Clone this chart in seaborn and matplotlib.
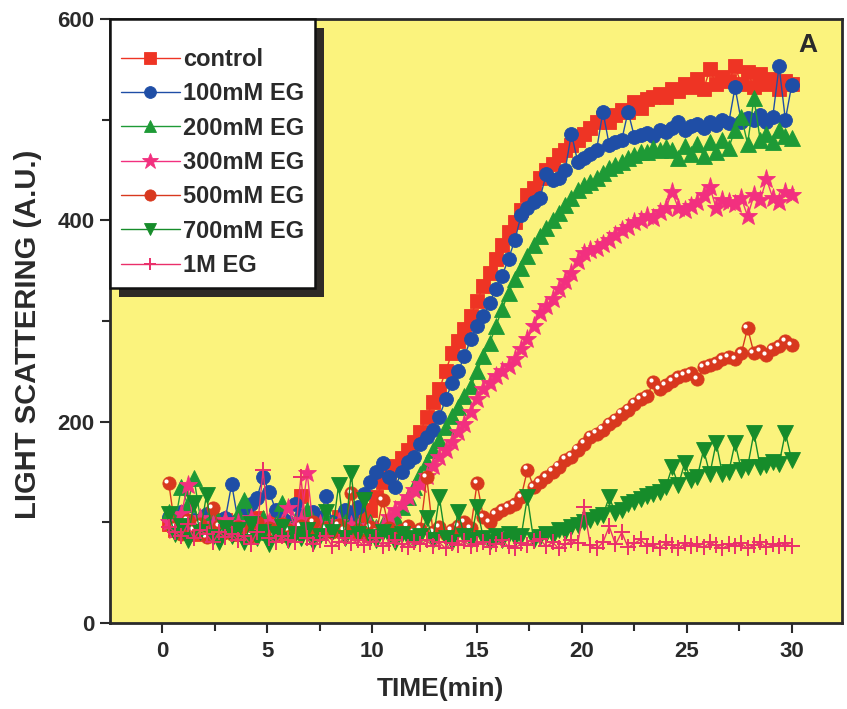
import numpy as np
import pandas as pd
import matplotlib
matplotlib.use("Agg")
import matplotlib.pyplot as plt
import matplotlib.transforms as mtransforms
from matplotlib.patches import Rectangle
import seaborn as sns

# Sampling times (min)
time_min = [
    0.3, 0.6, 0.9, 1.2, 1.5, 1.8, 2.1, 2.4, 2.7, 3.0,
    3.3, 3.6, 3.9, 4.2, 4.5, 4.8, 5.1, 5.4, 5.7, 6.0,
    6.3, 6.6, 6.9, 7.2, 7.5, 7.8, 8.1, 8.4, 8.7, 9.0,
    9.3, 9.6, 9.9, 10.2, 10.5, 10.8, 11.1, 11.4, 11.7, 12.0,
    12.3, 12.6, 12.9, 13.2, 13.5, 13.8, 14.1, 14.4, 14.7, 15.0,
    15.3, 15.6, 15.9, 16.2, 16.5, 16.8, 17.1, 17.4, 17.7, 18.0,
    18.3, 18.6, 18.9, 19.2, 19.5, 19.8, 20.1, 20.4, 20.7, 21.0,
    21.3, 21.6, 21.9, 22.2, 22.5, 22.8, 23.1, 23.4, 23.7, 24.0,
    24.3, 24.6, 24.9, 25.2, 25.5, 25.8, 26.1, 26.4, 26.7, 27.0,
    27.3, 27.6, 27.9, 28.2, 28.5, 28.8, 29.1, 29.4, 29.7, 30.0,
]

# Light scattering (A.U.) for each ethylene glycol concentration
control = [
    98, 92, 105, 95, 88, 100, 93, 97, 90, 102,
    95, 88, 99, 92, 104, 90, 96, 100, 87, 94,
    98, 126, 92, 89, 101, 95, 93, 105, 97, 91,
    100, 104, 112, 125, 140, 150, 156, 164, 172, 180,
    190, 205, 220, 232, 250, 268, 280, 292, 305, 320,
    335, 348, 362, 375, 388, 398, 410, 425, 432, 442,
    450, 456, 465, 470, 475, 480, 486, 492, 498, 502,
    498, 505, 510, 508, 517, 512, 520, 522, 525, 522,
    530, 528, 535, 532, 540, 530, 550, 535, 542, 538,
    553, 535, 547, 532, 545, 535, 540, 530, 538, 535,
]
eg_100mM = [
    105, 98, 110, 95, 102, 92, 108, 100, 96, 104,
    138, 102, 108, 118, 124, 145, 130, 112, 104, 100,
    118, 106, 98, 110, 104, 126, 100, 96, 112, 108,
    115, 128, 140, 150, 159, 145, 135, 150, 160, 165,
    178, 185, 192, 205, 222, 238, 250, 265, 282, 295,
    305, 318, 332, 345, 362, 380, 405, 412, 418, 422,
    446, 440, 442, 450, 486, 458, 462, 466, 470, 508,
    475, 478, 480, 508, 483, 485, 487, 484, 490, 488,
    492, 498, 490, 494, 496, 492, 498, 495, 500, 497,
    532, 498, 502, 500, 505, 498, 503, 553, 500, 534,
]
eg_200mM = [
    110, 100, 135, 118, 144, 105, 98, 112, 95, 102,
    92, 108, 122, 100, 96, 104, 90, 98, 119, 94,
    100, 92, 112, 96, 90, 104, 98, 93, 100, 95,
    97, 92, 100, 95, 98, 96, 105, 115, 125, 135,
    148, 160, 172, 182, 195, 206, 215, 225, 235, 250,
    265, 278, 295, 312, 328, 342, 353, 365, 375, 384,
    392, 400, 407, 415, 422, 430, 435, 438, 442, 447,
    452, 455, 458, 462, 465, 468, 468, 472, 470, 473,
    470, 462, 474, 466, 476, 464, 478, 468, 480, 472,
    490, 503, 476, 521, 480, 486, 478, 490, 484, 482,
]
eg_300mM = [
    100, 92, 108, 137, 96, 104, 90, 98, 94, 102,
    95, 99, 92, 104, 97, 90, 100, 94, 98, 114,
    96, 102, 149, 93, 98, 90, 95, 100, 92, 97,
    94, 90, 96, 92, 95, 105, 112, 118, 125, 132,
    138, 146, 156, 165, 172, 180, 190, 198, 210, 222,
    232, 238, 245, 250, 255, 262, 272, 282, 295, 308,
    315, 322, 332, 340, 348, 360, 368, 370, 372, 376,
    380, 385, 390, 393, 398, 400, 404, 402, 408, 412,
    428, 412, 410, 414, 418, 425, 433, 412, 420, 418,
    416, 422, 404, 425, 420, 441, 422, 418, 428, 425,
]
eg_500mM = [
    139, 95, 88, 102, 92, 98, 85, 114, 96, 90,
    88, 95, 92, 86, 100, 90, 94, 87, 98, 92,
    89, 96, 92, 100, 88, 94, 90, 97, 92, 129,
    92, 88, 95, 90, 122, 94, 88, 92, 96, 90,
    93, 145, 90, 95, 88, 92, 96, 100, 94, 139,
    105, 100, 108, 112, 115, 118, 125, 152, 135, 140,
    145, 150, 155, 162, 165, 172, 178, 185, 188, 192,
    198, 202, 208, 212, 218, 222, 225, 239, 232, 236,
    240, 244, 246, 248, 242, 254, 256, 258, 262, 264,
    262, 268, 293, 268, 270, 266, 272, 275, 280, 276,
]
eg_700mM = [
    108, 88, 96, 82, 119, 90, 127, 85, 80, 94,
    86, 92, 80, 98, 84, 90, 78, 88, 95, 82,
    88, 84, 92, 80, 86, 110, 90, 137, 84, 149,
    88, 122, 85, 82, 90, 86, 80, 88, 84, 82,
    86, 104, 82, 125, 84, 80, 110, 86, 82, 115,
    84, 80, 86, 82, 88, 84, 86, 125, 82, 85,
    88, 86, 92, 90, 95, 97, 100, 102, 105, 107,
    125, 109, 112, 118, 120, 123, 126, 128, 130, 135,
    155, 137, 159, 142, 145, 172, 148, 179, 148, 150,
    179, 152, 155, 189, 155, 157, 160, 158, 189, 162,
]
eg_1M = [
    95, 90, 86, 98, 84, 92, 88, 80, 90, 85,
    88, 82, 86, 78, 90, 152, 84, 80, 86, 82,
    80, 145, 84, 78, 82, 86, 76, 80, 84, 79,
    82, 77, 80, 84, 76, 79, 82, 78, 75, 80,
    78, 82, 76, 80, 74, 79, 77, 81, 76, 78,
    80, 75, 78, 82, 76, 74, 79, 77, 81, 83,
    76, 80, 74, 78, 82, 79, 115, 77, 74, 80,
    96, 78, 90, 75, 79, 83, 76, 78, 74, 80,
    77, 74, 79, 76, 78, 75, 80, 77, 74, 78,
    76, 79, 74, 77, 80, 75, 78, 76, 79, 76,
]

series_labels = ["control", "100mM EG", "200mM EG", "300mM EG",
                 "500mM EG", "700mM EG", "1M EG"]
series_values = [control, eg_100mM, eg_200mM, eg_300mM,
                 eg_500mM, eg_700mM, eg_1M]

x_ticks = [0, 5, 10, 15, 20, 25, 30]
y_ticks = [0, 200, 400, 600]

styles = {
    "control":  dict(color="#ee3424", marker="s", markersize=9.5),
    "100mM EG": dict(color="#1f4ea6", marker="o", markersize=10),
    "200mM EG": dict(color="#1e9a36", marker="^", markersize=11),
    "300mM EG": dict(color="#f2307f", marker="*", markersize=14),
    "500mM EG": dict(color="#d8381e", marker="o", markersize=9.5),
    "700mM EG": dict(color="#168c2a", marker="v", markersize=11),
    "1M EG":    dict(color="#ea2f6a", marker="+", markersize=11),
}

df = pd.DataFrame({
    "time": np.tile(time_min, len(series_labels)),
    "scatter": np.concatenate(series_values),
    "sample": np.repeat(series_labels, len(time_min)),
})

sns.set_style("ticks")
plt.rcParams["font.family"] = ["Liberation Sans", "DejaVu Sans"]
plt.rcParams["font.weight"] = "bold"

text_color = "#2a2a2a"
fig = plt.figure(figsize=(8.47, 7.09), dpi=100)
ax = fig.add_axes([0.1299, 0.1213, 0.8642, 0.852])
ax.set_facecolor("#fbf37d")

for name in series_labels:
    st = styles[name]
    sub = df[df["sample"] == name]
    sns.lineplot(
        data=sub, x="time", y="scatter", ax=ax, label=name,
        color=st["color"], marker=st["marker"], markersize=st["markersize"],
        markeredgecolor=st["color"], markeredgewidth=1.4 if st["marker"] == "+" else 0.6,
        linewidth=1.0, estimator=None, sort=False,
    )
    if name == "500mM EG":
        # glossy highlight on the sphere markers
        shift = mtransforms.ScaledTranslation(-1.8 / 72, 1.8 / 72, fig.dpi_scale_trans)
        ax.plot(sub["time"], sub["scatter"], linestyle="none", marker="o",
                markersize=3.0, markerfacecolor="white", markeredgewidth=0,
                transform=ax.transData + shift, label="_nolegend_")

ax.set_xlim(-2.5, 32.4)
ax.set_ylim(0, 600)
ax.set_xticks(x_ticks)
ax.set_yticks(y_ticks)
ax.set_xticks([2.5, 7.5, 12.5, 17.5, 22.5, 27.5], minor=True)
ax.set_yticks([100, 300, 500], minor=True)
ax.tick_params(axis="both", which="major", direction="out", length=7, width=1.5,
               color="#2a2a2a", labelsize=16, labelcolor=text_color)
ax.tick_params(axis="x", which="major", pad=6)
ax.tick_params(axis="y", which="major", pad=4)
ax.tick_params(axis="both", which="minor", direction="out", length=6, width=1.5,
               color="#2a2a2a")
for lab in ax.get_xticklabels() + ax.get_yticklabels():
    lab.set_fontweight("bold")
for sp in ax.spines.values():
    sp.set_visible(True)
    sp.set_linewidth(2.0)
    sp.set_color("#2a2a2a")

ax.set_xlabel("TIME(min)", fontsize=19, fontweight="bold", color=text_color)
ax.set_ylabel("LIGHT SCATTERING (A.U.)", fontsize=21, fontweight="bold", color=text_color)
ax.xaxis.set_label_coords(0.451, -0.089)
ax.yaxis.set_label_coords(-0.093, 0.478)

ax.text(0.954, 0.957, "A", transform=ax.transAxes, fontsize=19, fontweight="bold",
        color=text_color, ha="center", va="center")

leg = ax.legend(loc="upper left", bbox_to_anchor=(0.0, 1.0), borderaxespad=0.0,
                fontsize=17, frameon=True, fancybox=False, framealpha=1.0,
                edgecolor="#111111", facecolor="white", handlelength=2.5,
                handletextpad=0.15, borderpad=0.45, labelspacing=0.48,
                markerscale=0.85, title=" ", title_fontsize=5)
leg.get_frame().set_linewidth(1.8)
for t in leg.get_texts():
    t.set_fontweight("bold")
    t.set_color(text_color)
leg.set_zorder(6)

# dark drop shadow behind the legend box
fig.canvas.draw()
bb = leg.get_window_extent().transformed(ax.transAxes.inverted())
dx = 9 / (ax.get_window_extent().width)
dy = 9 / (ax.get_window_extent().height)
ax.add_patch(Rectangle((bb.x0 + dx, bb.y0 - dy), bb.width, bb.height,
                       transform=ax.transAxes, facecolor="#2e2a26",
                       edgecolor="none", zorder=5.5, clip_on=False))

fig.savefig("out.png", dpi=100, facecolor="white")
